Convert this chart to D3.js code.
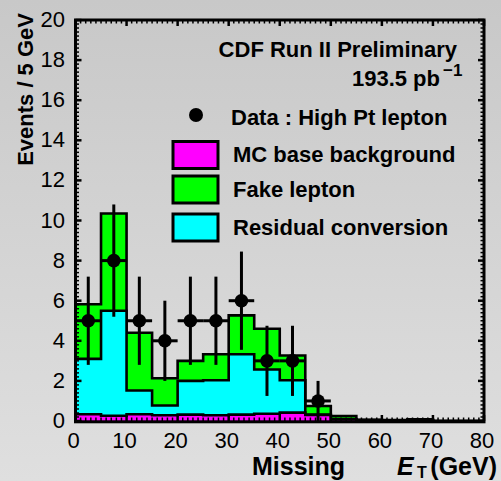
<!DOCTYPE html>
<html><head><meta charset="utf-8">
<script src="https://cdn.jsdelivr.net/npm/d3@7"></script>
<style>html,body{margin:0;padding:0;background:#d4d4d4;}svg{display:block;}</style>
</head><body>
<svg id="c" width="501" height="481"></svg>
<script>
// ---- data ----
const binEdgesStart = [0,5,10,15,20,25,30,35,40,45,50,55,60,65,70,75];
const binWidth = 5;
const mcBase   = [0.34,0.26,0.34,0.29,0.32,0.29,0.32,0.36,0.42,0.30,0.08,0.04,0.03,0.03,0,0];
const residual = [2.76,5.24,1.18,0.48,1.68,1.74,3.01,2.21,1.61,0.02,0.02,0.01,0.01,0.01,0,0];
const fake     = [2.72,4.85,2.88,1.36,1.00,1.30,1.94,2.03,1.24,0.43,0.15,0.01,0.01,0.04,0,0];
const dataX    = [2.5,7.5,12.5,17.5,22.5,27.5,32.5,37.5,42.5,47.5];
const dataY    = [5,8,5,4,5,5,6,3,3,1];
const dataErr  = [2.2,2.8,2.2,2.0,2.2,2.2,2.45,1.75,1.75,1.0];
const xTickLabels = [0,10,20,30,40,50,60,70,80];
const yTickLabels = [0,2,4,6,8,10,12,14,16,18,20];
const legendItems = [
  {label:"MC base background", color:"#ff00ff"},
  {label:"Fake lepton", color:"#00ff00"},
  {label:"Residual conversion", color:"#00ffff"}
];

// ---- setup ----
const svg = d3.select("#c");
const W = 501, H = 481;
const FONT = "'Liberation Sans', Arial, Helvetica, sans-serif";
const x = d3.scaleLinear().domain([0,80]).range([75.5,484]);
const y = d3.scaleLinear().domain([0,20]).range([421,20]);

const defs = svg.append("defs");
const grad = defs.append("linearGradient").attr("id","bg").attr("x1",0).attr("y1",0).attr("x2",0).attr("y2",1);
grad.append("stop").attr("offset","0%").attr("stop-color","#c8c8c8");
grad.append("stop").attr("offset","100%").attr("stop-color","#dfdfdf");
svg.append("rect").attr("width",W).attr("height",H).attr("fill","url(#bg)");

// ---- stacked histograms ----
const rows = binEdgesStart.map((s,i)=>({x0:s, x1:s+binWidth, mc:mcBase[i], conv:residual[i], fake:fake[i]}));
const stack = d3.stack().keys(["mc","conv","fake"])(rows);
const colors = {mc:"#ff00ff", conv:"#00ffff", fake:"#00ff00"};

const area = d3.area().x(d=>x(d[0])).y0(y(0)).y1(d=>y(d[1]));
const line = d3.line().x(d=>x(d[0])).y(d=>y(d[1]));

function stepPts(layer){
  const pts = [];
  layer.forEach((d,i)=>{ pts.push([rows[i].x0, d[1]]); pts.push([rows[i].x1, d[1]]); });
  return pts;
}
const hg = svg.append("g");
[...stack].reverse().forEach(layer=>{
  const pts = stepPts(layer);
  hg.append("path").attr("d", area(pts)).attr("fill", colors[layer.key]).attr("stroke","none");
  const outline = [[0,0], ...pts, [80,0]];
  hg.append("path").attr("d", line(outline)).attr("fill","none").attr("stroke","#000")
    .attr("stroke-width",2.6).attr("stroke-linejoin","miter");
});

// ---- data points ----
const dg = svg.append("g");
dataX.forEach((dx,i)=>{
  const v = dataY[i], e = dataErr[i];
  dg.append("line").attr("x1",x(dx)).attr("x2",x(dx)).attr("y1",y(Math.max(0,v-e))).attr("y2",y(v+e))
    .attr("stroke","#000").attr("stroke-width",3);
  dg.append("line").attr("x1",x(dx-2.5)).attr("x2",x(dx+2.5)).attr("y1",y(v)).attr("y2",y(v))
    .attr("stroke","#000").attr("stroke-width",3);
  dg.append("circle").attr("cx",x(dx)).attr("cy",y(v)).attr("r",6.8).attr("fill","#000");
});

// ---- frame and ticks ----
const fg = svg.append("g").attr("stroke","#000");
const [xl,xr] = x.range(), [yb,yt] = y.range();
x.ticks(80).forEach(t=>{
  const major = (t%10===0);
  const L = major?6:3.5;
  fg.append("line").attr("x1",x(t)).attr("x2",x(t)).attr("y1",yb).attr("y2",yb-L).attr("stroke-width",major?2.5:1.5);
  fg.append("line").attr("x1",x(t)).attr("x2",x(t)).attr("y1",yt).attr("y2",yt+L).attr("stroke-width",major?2.5:1.5);
});
y.ticks(100).forEach(t=>{
  const major = Math.abs(t/2-Math.round(t/2))<1e-6;
  const L = major?6:3.5;
  fg.append("line").attr("x1",xl).attr("x2",xl+L).attr("y1",y(t)).attr("y2",y(t)).attr("stroke-width",major?2.5:1.5);
  fg.append("line").attr("x1",xr).attr("x2",xr-L).attr("y1",y(t)).attr("y2",y(t)).attr("stroke-width",major?2.5:1.5);
});
fg.append("rect").attr("x",xl).attr("y",yt).attr("width",xr-xl).attr("height",yb-yt+0.8)
  .attr("fill","none").attr("stroke-width",3);

// ---- tick labels ----
const tg = svg.append("g").attr("font-family",FONT).attr("font-size",22).attr("fill","#000");
xTickLabels.forEach(t=>{
  tg.append("text").attr("x",x(t)-2).attr("y",448).attr("text-anchor","middle").text(t);
});
yTickLabels.forEach(t=>{
  tg.append("text").attr("x",65).attr("y",y(t)+7).attr("text-anchor","end").text(t);
});

// ---- axis titles ----
svg.append("text").attr("transform","translate(33,13) rotate(-90)").attr("text-anchor","end")
  .attr("font-family",FONT).attr("font-size",22).attr("font-weight","bold").text("Events / 5 GeV");
const xtg = svg.append("g").attr("font-family",FONT).attr("font-weight","bold").attr("fill","#000");
xtg.append("text").attr("x",252).attr("y",475).attr("font-size",25).text("Missing");
xtg.append("text").attr("x",397).attr("y",475).attr("font-size",25).attr("font-style","italic").text("E");
xtg.append("text").attr("x",417).attr("y",478).attr("font-size",16).text("T");
xtg.append("text").attr("x",497).attr("y",475).attr("font-size",25).attr("text-anchor","end").text("(GeV)");

// ---- legend / labels ----
const lg = svg.append("g").attr("font-family",FONT).attr("font-size",22).attr("font-weight","bold");
lg.append("text").attr("x",457).attr("y",57).attr("text-anchor","end").text("CDF Run II Preliminary");
lg.append("text").attr("x",440).attr("y",86).attr("text-anchor","end").text("193.5 pb");
lg.append("text").attr("x",443).attr("y",76).attr("font-size",17).text("\u22121");
lg.append("circle").attr("cx",196).attr("cy",115).attr("r",7).attr("fill","#000");
lg.append("text").attr("x",231).attr("y",125).text("Data : High Pt lepton");
legendItems.forEach((it,i)=>{
  const yc = [155,189.5,227.5][i];
  lg.append("rect").attr("x",173).attr("y",yc-13.5).attr("width",45).attr("height",27)
    .attr("fill",it.color).attr("stroke","#000").attr("stroke-width",3);
  lg.append("text").attr("x",233).attr("y",[162,197,235][i]).text(it.label);
});
</script>
</body></html>
